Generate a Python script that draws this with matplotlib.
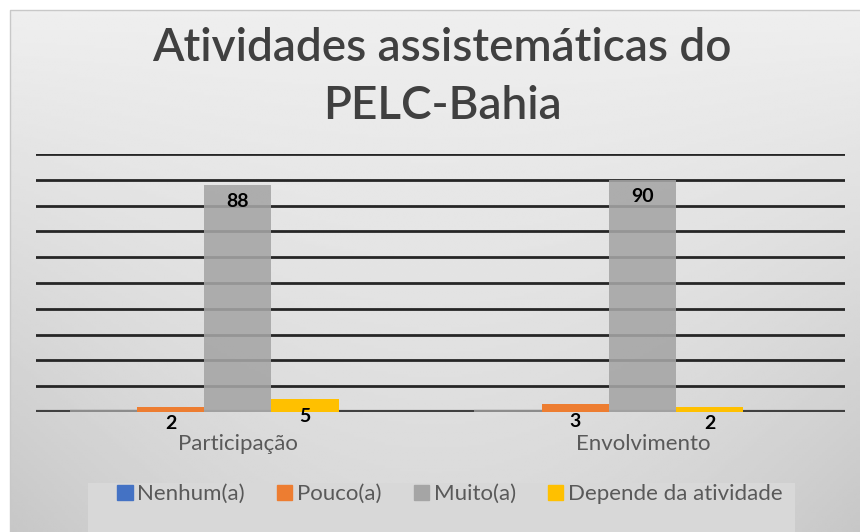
import numpy as np
import matplotlib as mpl
mpl.use('Agg')
import matplotlib.pyplot as plt
from matplotlib.patches import Patch, Rectangle

# data
categories = ['Participação', 'Envolvimento']
series = ['Nenhum(a)', 'Pouco(a)', 'Muito(a)', 'Depende da atividade']
values = [
    [0, 0],    # Nenhum(a)
    [2, 3],    # Pouco(a)
    [88, 90],  # Muito(a)
    [5, 2],    # Depende da atividade
]
colors = ['#4472c4', '#ed7d31', '#a5a5a5', '#ffc000']
title = 'Atividades assistemáticas do\nPELC-Bahia'

plt.rcParams['font.family'] = ['Lato', 'DejaVu Sans']

fig = plt.figure(figsize=(8.6, 5.32), dpi=100)
fig.patch.set_facecolor('white')

# gradient background of the chart area (light at top, darker towards bottom corners)
bg = fig.add_axes([10 / 860, 0, 1 - 10 / 860, 1 - 10 / 532])
yy = np.linspace(0, 1, 200)[:, None]
xx = np.linspace(-1, 1, 300)[None, :]
shade = 0.935 - 0.085 * yy - 0.07 * xx ** 2 * yy
bg.imshow(shade, cmap='gray', vmin=0, vmax=1, aspect='auto',
          extent=[0, 1, 0, 1], origin='upper')
bg.set_xlim(0, 1)
bg.set_ylim(0, 1)
bg.axis('off')
# thin border of the chart area
fig.add_artist(plt.Line2D([10 / 860, 10 / 860, 1], [0, 1 - 10 / 532, 1 - 10 / 532],
                          color='#c8c8c8', lw=1))
# lighter box behind the legend
fig.add_artist(Rectangle((88 / 860, 0), 707 / 860, 49 / 532, transform=fig.transFigure,
                         facecolor='#d8d8d8', edgecolor='none', zorder=0.5))

ax = fig.add_axes([36 / 860, 1 - 412 / 532, 809 / 860, 258 / 532])
ax.patch.set_alpha(0)
ax.set_xlim(-0.5, 1.5)
ax.set_ylim(0, 100)

x = np.arange(len(categories))
w = 0.166
shift = -0.084
for i, (name, vals, c) in enumerate(zip(series, values, colors)):
    pos = x + shift + (i - 1.5) * w
    alpha = 0.88 if name == 'Muito(a)' else 1.0
    bars = ax.bar(pos, vals, width=w, color=c, alpha=alpha, zorder=3, label=name)
    for b, v in zip(bars, vals):
        if v == 0:
            continue
        ax.annotate(str(v), (b.get_x() + b.get_width() / 2, v),
                    xytext=(0, -17), textcoords='offset pixels',
                    ha='center', va='center', fontsize=14, fontweight='bold',
                    color='black', zorder=5)

# gridlines
for g in range(10, 101, 10):
    ax.axhline(g, color='#262626', lw=2, zorder=1)
ax.axhline(0, color='#404040', lw=3, zorder=2)
# bottom faces of the bar groups
for xc in x:
    ax.plot([xc + shift - 2 * w, xc + shift + 2 * w], [0, 0], color='#8c8c8c', lw=3,
            zorder=2, solid_capstyle='butt')

for s in ax.spines.values():
    s.set_visible(False)
ax.set_yticks([])
ax.set_xticks(x)
ax.set_xticklabels(categories, fontsize=16, color='#595959')
ax.tick_params(axis='x', length=0, pad=16)

fig.text(0.514, 0.855, title, ha='center', va='center', fontsize=33,
         color='#404040', fontweight='semibold', linespacing=1.45)

handles = [Patch(color=c, label=n) for n, c in zip(series, colors)]
leg = fig.legend(handles=handles, loc='center', bbox_to_anchor=(0.523, 0.071), ncol=4,
                 frameon=False, fontsize=16, labelcolor='#595959',
                 handlelength=0.7, handleheight=0.7, handletextpad=0.2, columnspacing=1.45)
leg.set_zorder(5)

fig.savefig('out.png', dpi=100)
